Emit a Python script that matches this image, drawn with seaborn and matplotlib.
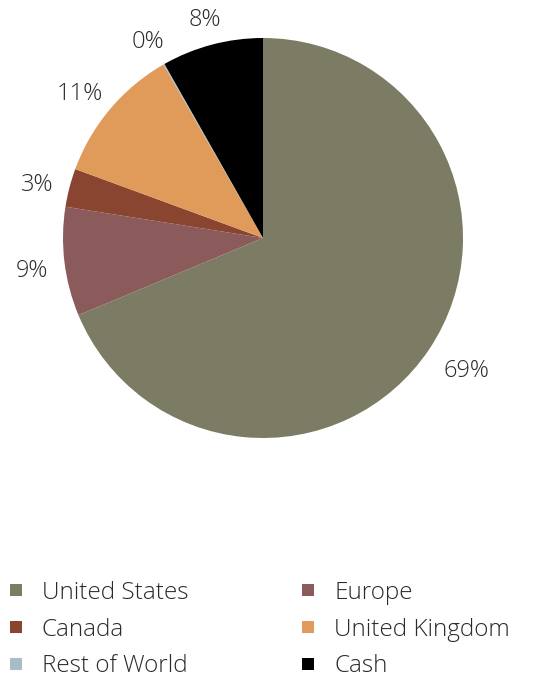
import numpy as np
import matplotlib
matplotlib.use("Agg")
import matplotlib.pyplot as plt
from matplotlib.lines import Line2D
import seaborn as sns

# data
regions = ["United States", "Europe", "Canada", "United Kingdom", "Rest of World", "Cash"]
shares = [68.7, 8.8, 3.1, 11.1, 0.1, 8.2]
colors = ["#7b7c63", "#8b5a5a", "#8a4530", "#e09a5a", "#a9bcc4", "#000000"]

sns.set_theme(style="white")
plt.rcParams['font.family'] = ['Open Sans', 'DejaVu Sans']
text_color = "#2b2b2b"

W, H = 537, 678
fig = plt.figure(figsize=(W / 100, H / 100), dpi=100)

# pie centre (263, 238) px, radius 200 px
cx, cy, r = 263, H - 238, 200
half = 1.3 * r
ax = fig.add_axes([(cx - half) / W, (cy - half) / H, 2 * half / W, 2 * half / H])

palette = sns.color_palette(colors)
wedges, texts, autotexts = ax.pie(
    shares, colors=palette, startangle=90, counterclock=False,
    autopct='%.0f%%', pctdistance=1.1,
    wedgeprops=dict(linewidth=0),
    textprops=dict(fontsize=17, color=text_color, fontweight='light'),
)
ax.set_xlim(-1.3, 1.3)
ax.set_ylim(-1.3, 1.3)
ax.set_aspect('equal')
ax.axis('off')

# push each label outward so its box sits just outside the rim
renderer = fig.canvas.get_renderer()
for w, t in zip(wedges, autotexts):
    ang = np.deg2rad((w.theta1 + w.theta2) / 2)
    ux, uy = np.cos(ang), np.sin(ang)
    bb = t.get_window_extent(renderer)
    hw, hh = bb.width / 2 / r, bb.height / 2 / r
    t.set_position((ux * 1.095 + ux * hw + 0.01, uy * 1.095 + uy * hh - 0.025))
    t.set_ha('center')
    t.set_va('center')

# legend, filled row-wise (matplotlib fills column-wise)
order = [0, 2, 4, 1, 3, 5]
handles = [Line2D([], [], marker='s', linestyle='', markersize=8,
                  markerfacecolor=colors[i], markeredgewidth=0) for i in order]
labels = [regions[i] for i in order]
leg = fig.legend(handles, labels, ncol=2, loc='upper left',
                 bbox_to_anchor=(4 / W, 1 - 581 / H), frameon=False,
                 fontsize=17.5, handlelength=0.95, handletextpad=0.6,
                 columnspacing=4.45, labelspacing=0.52, borderaxespad=0,
                 borderpad=0)
for t in leg.get_texts():
    t.set_color(text_color)
    t.set_fontweight('light')

fig.savefig("out.png", dpi=100, facecolor="white")
